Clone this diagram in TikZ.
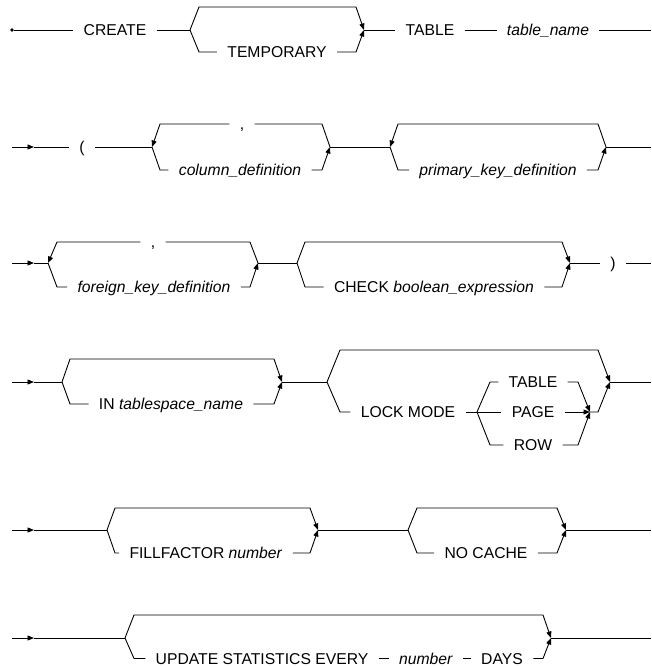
\documentclass[tikz,border=0pt]{standalone}
\usepackage{fontspec}
\setmainfont{Liberation Sans}
\usetikzlibrary{arrows.meta}
\begin{document}
\begin{tikzpicture}[x=1pt,y=-1pt, line width=0.9pt,
  lbl/.style={inner xsep=10pt, inner ysep=0pt, text height=11.2pt, text depth=0pt,
              font=\fontsize{15.7}{18}\selectfont},
  tip/.style={-{Triangle[length=6.5pt,width=5pt]}},
  startdot/.style={circle, fill, inner sep=0pt, minimum size=3.8pt}]
\useasboundingbox (0,0) rectangle (652,666);

% ---------- Row 1 ----------
\node[startdot] (start) at (12,30) {};
\node[lbl] (create) at (115,30) {CREATE};
\coordinate (b1) at (190,30);
\coordinate (m1) at (364,30);
\node[lbl] (temp) at (277,52) {TEMPORARY};
\node[lbl] (table) at (430,30) {TABLE};
\node[lbl] (tname) at (548,30) {\textit{table\_name}};
\coordinate (e1) at (651,30);
\draw (start) -- (create);
\draw (create) -- (b1);
\draw[tip] (b1) -- (199,7) -- (356,7) -- (m1);
\draw (b1) -- (199,52) -- (temp);
\draw[tip] (temp) -- (356,52) -- (m1);
\draw (m1) -- (table);
\draw (table) -- (tname);
\draw (tname) -- (e1);

% ---------- Row 2 ----------
\coordinate (s2) at (12,147);
\coordinate (a2) at (34,147);
\node[lbl] (lp) at (82,147) {(};
\coordinate (b2) at (152,147);
\coordinate (m2) at (330,147);
\node[lbl] (comma1) at (242,124) {,};
\node[lbl] (coldef) at (240,170) {\textit{column\_definition}};
\coordinate (b3) at (390,147);
\coordinate (m3) at (606,147);
\node[lbl] (pkd) at (498,170) {\textit{primary\_key\_definition}};
\coordinate (e2) at (651,147);
\draw[tip] (s2) -- (a2);
\draw (a2) -- (lp);
\draw (lp) -- (b2);
\draw[tip] (comma1) -- (160,124) -- (b2);
\draw (comma1) -- (322,124) -- (m2);
\draw (b2) -- (160,170) -- (coldef);
\draw[tip] (coldef) -- (322,170) -- (m2);
\draw (m2) -- (b3);
\draw[tip] (m3) -- (598,124) -- (398,124) -- (b3);
\draw (b3) -- (398,170) -- (pkd);
\draw[tip] (pkd) -- (598,170) -- (m3);
\draw (m3) -- (e2);

% ---------- Row 3 ----------
\coordinate (s3) at (12,263);
\coordinate (a3) at (34,263);
\coordinate (b4) at (48,263);
\coordinate (m4) at (258,263);
\node[lbl] (comma2) at (153,242) {,};
\node[lbl] (fkd) at (154,287) {\textit{foreign\_key\_definition}};
\coordinate (b5) at (297,263);
\coordinate (m5) at (570,263);
\node[lbl] (chk) at (434,287) {CHECK \textit{boolean\_expression}};
\node[lbl] (rp) at (613,263) {)};
\coordinate (e3) at (651,263);
\draw[tip] (s3) -- (a3);
\draw (a3) -- (b4);
\draw[tip] (comma2) -- (57,242) -- (b4);
\draw (comma2) -- (250,242) -- (m4);
\draw (b4) -- (57,287) -- (fkd);
\draw[tip] (fkd) -- (250,287) -- (m4);
\draw (m4) -- (b5);
\draw[tip] (b5) -- (305,242) -- (562,242) -- (m5);
\draw (b5) -- (305,287) -- (chk);
\draw[tip] (chk) -- (562,287) -- (m5);
\draw (m5) -- (rp);
\draw (rp) -- (e3);

% ---------- Row 4 ----------
\coordinate (s4) at (12,382);
\coordinate (a4) at (34,382);
\coordinate (b6) at (62,382);
\coordinate (m6) at (282,382);
\node[lbl] (in) at (171,404) {IN \textit{tablespace\_name}};
\coordinate (b7) at (327,382);
\coordinate (m7) at (610,382);
\node[lbl] (lock) at (408,412) {LOCK MODE};
\coordinate (b8) at (477,412);
\coordinate (m8) at (590,412);
\node[lbl] (tbl2) at (533,382) {TABLE};
\node[lbl] (page) at (533,412) {PAGE};
\node[lbl] (row) at (533,445) {ROW};
\coordinate (e4) at (651,382);
\draw[tip] (s4) -- (a4);
\draw (a4) -- (b6);
\draw[tip] (b6) -- (70,359) -- (274,359) -- (m6);
\draw (b6) -- (70,404) -- (in);
\draw[tip] (in) -- (274,404) -- (m6);
\draw (m6) -- (b7);
\draw[tip] (b7) -- (340,350) -- (598,350) -- (m7);
\draw (b7) -- (340,412) -- (lock);
\draw (lock) -- (b8);
\draw (b8) -- (490,382) -- (tbl2);
\draw[tip] (tbl2) -- (578,382) -- (m8);
\draw (b8) -- (page);
\draw[tip] (page) -- (m8);
\draw (b8) -- (490,445) -- (row);
\draw[tip] (row) -- (578,445) -- (m8);
\draw[tip] (m8) -- (598,412) -- (m7);
\draw (m7) -- (e4);

% ---------- Row 5 ----------
\coordinate (s5) at (12,530);
\coordinate (a5) at (34,530);
\coordinate (b9) at (107,530);
\coordinate (m9) at (318,530);
\node[lbl] (ff) at (206,553) {FILLFACTOR \textit{number}};
\coordinate (b10) at (408,530);
\coordinate (m10) at (566,530);
\node[lbl] (nc) at (486,553) {NO CACHE};
\coordinate (e5) at (651,530);
\draw[tip] (s5) -- (a5);
\draw (a5) -- (b9);
\draw[tip] (b9) -- (115,508) -- (310,508) -- (m9);
\draw (b9) -- (115,553) -- (ff);
\draw[tip] (ff) -- (310,553) -- (m9);
\draw (m9) -- (b10);
\draw[tip] (b10) -- (417,508) -- (557,508) -- (m10);
\draw (b10) -- (417,553) -- (nc);
\draw[tip] (nc) -- (557,553) -- (m10);
\draw (m10) -- (e5);

% ---------- Row 6 ----------
\coordinate (s6) at (12,638);
\coordinate (a6) at (34,638);
\coordinate (b11) at (125,638);
\coordinate (m11) at (551,638);
\node[lbl] (upd) at (262,658.5) {UPDATE STATISTICS EVERY};
\node[lbl] (num) at (426,658.5) {\textit{number}};
\node[lbl] (days) at (502,658.5) {DAYS};
\coordinate (e6) at (651,638);
\draw[tip] (s6) -- (a6);
\draw (a6) -- (b11);
\draw[tip] (b11) -- (134,615) -- (543,615) -- (m11);
\draw (b11) -- (134,658.5) -- (upd);
\draw (upd) -- (num);
\draw (num) -- (days);
\draw[tip] (days) -- (543,658.5) -- (m11);
\draw (m11) -- (e6);
\end{tikzpicture}
\end{document}
